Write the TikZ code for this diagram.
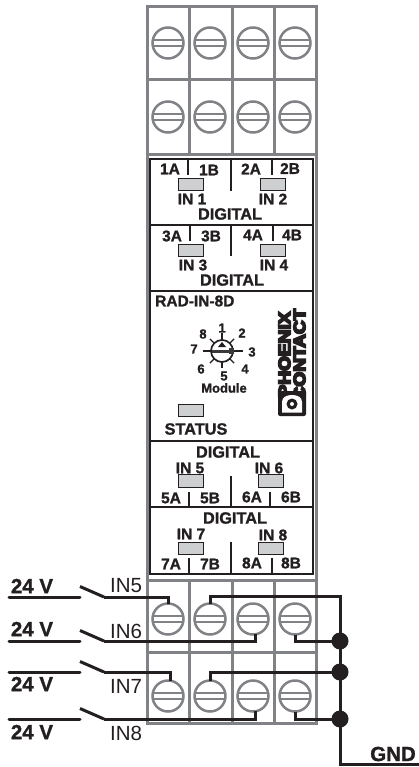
\documentclass[tikz,border=0pt]{standalone}
\usepackage{fontspec}
\usepackage{graphicx}
\setmainfont{Liberation Sans}
\newfontfamily\heavy[FakeBold=10]{Liberation Sans Bold}
\newfontfamily\semibold[FakeBold=1.2]{Liberation Sans Bold}
\usetikzlibrary{calc}
\definecolor{housing}{HTML}{808285}
\definecolor{ledfill}{HTML}{CDCFD0}
\definecolor{ink}{HTML}{231F20}
\tikzset{
  frame/.style={draw=housing,line width=3pt},
  modline/.style={draw=ink,line width=2pt},
  sepline/.style={draw=ink,line width=1.3pt},
  wire/.style={draw=ink,line width=3pt,line join=miter},
  screw/.style={circle,draw=housing,line width=2.5pt,minimum size=31pt,inner sep=0pt,outer sep=0pt},
  led/.style={draw=ink,fill=ledfill,line width=1pt,minimum width=25pt,minimum height=12.5pt,inner sep=0pt,outer sep=0pt},
  lab/.style={font=\fontsize{15.5}{15.5}\semibold,text=ink,inner sep=0pt},
  dig/.style={font=\fontsize{16.3}{16.3}\semibold,text=ink,inner sep=0pt},
  num/.style={font=\fontsize{13}{13}\semibold,text=ink,inner sep=0pt},
  volt/.style={font=\fontsize{20.5}{20.5}\semibold,text=ink,inner sep=0pt},
  inlab/.style={font=\fontsize{20.5}{20.5}\selectfont,text=ink,inner sep=0pt},
  logotext/.style={font=\fontsize{19}{19}\heavy,text=ink,inner sep=0pt,rotate=90},
  dot/.style={circle,fill=ink,draw=none,minimum size=17pt,inner sep=0pt}
}
\newcommand{\screwat}[3]{%
  \node[screw] (#1) at (#2,#3) {};
  \draw[housing,line width=2.2pt] (#2-15,#3-3.2)--(#2+15,#3-3.2) (#2-15,#3+3.2)--(#2+15,#3+3.2);
}
\begin{document}
\begin{tikzpicture}[x=1pt,y=-1pt]
\useasboundingbox (0,0) rectangle (419,767);
% housing
\draw[frame] (147,7) rectangle (316,723.5);
\foreach \y in {80,155,580,652}{\draw[frame] (147,\y)--(316,\y);}
\foreach \x in {189,232,274}{
  \draw[frame] (\x,7)--(\x,155);
  \draw[frame] (\x,580)--(\x,723.5);
}
% screws
\foreach \c/\x in {a/168,b/210,c/253,d/295}{
  \screwat{t1\c}{\x}{43}
  \screwat{t2\c}{\x}{117}
  \screwat{b1\c}{\x}{619}
  \screwat{b2\c}{\x}{696}
}
% module
\fill[white] (149,158) rectangle (314,575);
\draw[modline] (150,159.5) rectangle (313,574);
\foreach \y in {224.5,291,441,507}{\draw[modline] (150,\y)--(313,\y);}
% separators
\draw[sepline] (188,160)--(188,175) (231,160)--(231,191) (272,160)--(272,175);
\draw[sepline] (190,226)--(190,241) (231,226)--(231,256) (273,226)--(273,241);
\draw[sepline] (189,492)--(189,507) (231,476)--(231,507) (270,492)--(270,507);
\draw[sepline] (189,558)--(189,574) (231,542)--(231,574) (272,558)--(272,574);
% LEDs
\foreach \n/\x/\y in {l1/190.5/184.5,l2/272.5/184.5,l3/190.5/250.5,l4/272.5/250.5,ls/190.5/410.5,l5/190.5/481,l6/270.5/481,l7/190.5/548.5,l8/270.5/548.5}{
  \node[led] (\n) at (\x,\y) {};
}
% labels
\foreach \n/\x/\y/\t in {
 a1/170/169/1A,b1/209/170/1B,a2/251/169/2A,b2/290/168.5/2B,
 i1/192/199/IN 1,i2/273/199/IN 2,
 a3/172/236/3A,b3/211/236/3B,a4/253/235/4A,b4/292/235/4B,
 i3/193/265/IN 3,i4/274/265/IN 4,
 i5/190/468/IN 5,i6/269/468/IN 6,
 a5/171/498/5A,b5/210/498/5B,a6/252/497/6A,b6/291/497/6B,
 i7/191/534/IN 7,i8/273/535/IN 8,
 a7/171/564/7A,b7/210/564/7B,a8/252/563/8A,b8/291/563/8B}{
  \node[lab] (\n) at (\x,\y) {\t};
}
\foreach \n/\x/\y in {d1/230/214,d2/232/280,d3/228/452,d4/235/518}{
  \node[dig] (\n) at (\x,\y) {DIGITAL};
}
\node[lab,anchor=west] (rad) at (155,301) {RAD-IN-8D};
\node[dig] (status) at (196,429) {STATUS};
% dial
\foreach \a in {45,135,225,315}{\draw[ink,line width=1.4pt] (222,351)++(\a:10)--++(\a:7);}
\draw[ink,line width=1.4pt] (203,351)--(243,351) (222,333)--(222,368);
\node[circle,draw=ink,fill=white,line width=1.7pt,minimum size=22pt,inner sep=0pt] (dial) at (222,351) {};
\fill[ink] (218,347)--(226,347)--(222,342)--cycle;
\draw[housing!45!black,line width=3pt] (212,351.5)--(232,351.5);
\fill[housing!45!black] (229,347.5) rectangle (234,353.5);
\foreach \n/\x/\y/\t in {n1/222/328/1,n2/242/333/2,n3/252/352/3,n4/245/369/4,n5/224/376/5,n6/201/369/6,n7/194/349/7,n8/203/334/8}{
  \node[num] (\n) at (\x,\y) {\t};
}
\node[num] (module) at (224,388) {Module};
% logo
\node[logotext] (ph) at (284.5,354.5) {\scalebox{1}[0.87]{PHOENIX}};
\node[logotext] (co) at (299.5,354.5) {\scalebox{1}[0.87]{CONTACT}};
\fill[ink,rounded corners=2pt] (278,391) rectangle (306,416);
\fill[white] (282,412.5)--(282,402) .. controls (282,397) and (287,395) .. (292,395) .. controls (297,395) and (302,397) .. (302,402)--(302,412.5)--cycle;
\fill[ink] (292,404) circle (5.5);
\fill[white] (292,404) circle (2);
% wiring
\node[dot] (j1) at (340,641) {};
\node[dot] (j2) at (340,672) {};
\node[dot] (j3) at (340,719) {};
\coordinate (e) at (340,596);
\coordinate (g) at (340,764);
\coordinate (gend) at (419,764);
\foreach \n/\y in {1/597,2/641,3/672,4/719}{
  \coordinate (s\n) at (9,\y);
  \coordinate (p\n) at (80,\y);
  \coordinate (q\n) at (104,\y);
  \coordinate (u\n) at (80,\y-10.5);
  \draw[wire,line cap=round] (s\n)--(p\n);
  \draw[wire] (u\n)--(q\n);
}
\draw[wire] (q1)-|(b1a.north);
\draw[wire] (b1b.north)|-(e)--(g)--(gend);
\draw[wire] (q2)-|(b1c.-82);
\draw[wire] (b1d.south)|-(j1.center);
\draw[wire] (q3)-|(b2a.82);
\draw[wire] (b2b.north)|-(j2.center);
\draw[wire] (q4)-|(b2c.-82);
\draw[wire] (b2d.south)|-(j3.center);
% left labels
\foreach \n/\y in {v1/586,v2/629,v3/684,v4/732}{\node[volt] (\n) at (32,\y) {24 V};}
\foreach \n/\y/\t in {w5/586/IN5,w6/631/IN6,w7/686/IN7,w8/733/IN8}{\node[inlab] (\n) at (126,\y) {\t};}
\node[volt] (gnd) at (393,754) {GND};
\end{tikzpicture}
\end{document}
